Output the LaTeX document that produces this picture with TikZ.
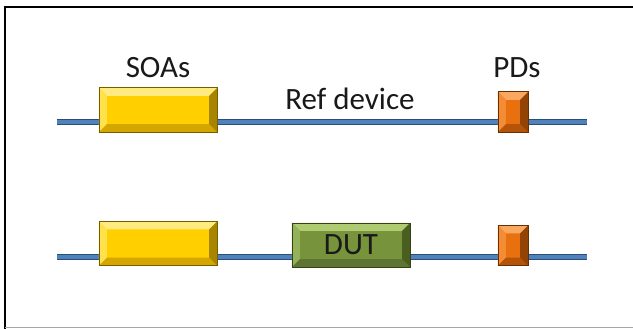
\documentclass[tikz,border=0pt]{standalone}
\usepackage{fontspec}
\setmainfont{Carlito}
\definecolor{soaY}{HTML}{FFCF00}
\definecolor{soaYl}{HTML}{FFEB80}
\definecolor{soaYm}{HTML}{FFE04D}
\definecolor{soaYd}{HTML}{D6A600}
\definecolor{soaYr}{HTML}{A88500}
\definecolor{dutG}{HTML}{77933C}
\definecolor{dutGl}{HTML}{AECB72}
\definecolor{dutGm}{HTML}{94B25A}
\definecolor{dutGd}{HTML}{5D7530}
\definecolor{dutGr}{HTML}{4A5E20}
\definecolor{pdO}{HTML}{E8700F}
\definecolor{pdOl}{HTML}{FAA860}
\definecolor{pdOm}{HTML}{F48C35}
\definecolor{pdOd}{HTML}{B35408}
\definecolor{pdOr}{HTML}{934405}
\definecolor{fibB}{HTML}{4F81BD}
\definecolor{fibD}{HTML}{2C4D75}
% bevel facets drawn from a node's anchors: #1 node, #2 top, #3 left, #4 bottom, #5 right, #6 outline
\newcommand{\mybevel}[6]{%
  \fill[#2] (#1.north west) -- (#1.north east) -- ([shift={(-8pt,-8pt)}]#1.north east) -- ([shift={(8pt,-8pt)}]#1.north west) -- cycle;
  \fill[#3] (#1.north west) -- (#1.south west) -- ([shift={(8pt,8pt)}]#1.south west) -- ([shift={(8pt,-8pt)}]#1.north west) -- cycle;
  \fill[#4] (#1.south west) -- (#1.south east) -- ([shift={(-8pt,8pt)}]#1.south east) -- ([shift={(8pt,8pt)}]#1.south west) -- cycle;
  \fill[#5] (#1.north east) -- (#1.south east) -- ([shift={(-8pt,8pt)}]#1.south east) -- ([shift={(-8pt,-8pt)}]#1.north east) -- cycle;
  \draw[#6, line width=0.6pt] (#1.north west) rectangle (#1.south east);
}
\tikzset{
  boxbase/.style={rectangle, inner sep=0pt, font=\fontsize{31}{33}\selectfont, text=black!90},
  soa/.style={boxbase, fill=soaY, minimum width=118pt, minimum height=44pt},
  dut/.style={boxbase, fill=dutG, minimum width=118pt, minimum height=44pt},
  pd/.style={boxbase, fill=pdO, minimum width=30pt, minimum height=40pt},
  fibre/.style={line width=6pt, draw=fibD},
  fibrein/.style={line width=4pt, draw=fibB},
  lbl/.style={font=\fontsize{31}{33}\selectfont, text=black!90, inner sep=0pt},
}
\begin{document}
\begin{tikzpicture}[x=1pt,y=-1pt]
\useasboundingbox (0,0) rectangle (633,329);
% frame
\draw[line width=2pt, black] (5,329) -- (5,7) -- (633,7);
\draw[line width=1pt, black!35] (5,327.5) -- (633,327.5);
% fibres
\coordinate (l1a) at (57,122);
\coordinate (l1b) at (587,122);
\coordinate (l2a) at (57,257);
\coordinate (l2b) at (587,257);
\draw[fibre] (l1a) -- (l1b);
\draw[fibrein] (l1a) -- (l1b);
\draw[fibre] (l2a) -- (l2b);
\draw[fibrein] (l2a) -- (l2b);
% devices
\node[soa] (soa1) at (158,110) {};
\mybevel{soa1}{soaYl}{soaYm}{soaYd}{soaYr}{soaYr!70!black}
\node[pd] (pd1) at (513,112) {};
\mybevel{pd1}{pdOl}{pdOm}{pdOd}{pdOr}{pdOr!70!black}
\node[soa] (soa2) at (158,243.5) {};
\mybevel{soa2}{soaYl}{soaYm}{soaYd}{soaYr}{soaYr!70!black}
\node[dut] (dut) at (351,245) {};
\mybevel{dut}{dutGl}{dutGm}{dutGd}{dutGr}{dutGr!70!black}
\node[boxbase] (dutlbl) at (dut) {DUT};
\node[pd] (pd2) at (513,245.5) {};
\mybevel{pd2}{pdOl}{pdOm}{pdOd}{pdOr}{pdOr!70!black}
% labels
\node[lbl] (tsoa) at (158,68) {SOAs};
\node[lbl] (tref) at (350,99) {Ref device};
\node[lbl] (tpd) at (517,68) {PDs};
\end{tikzpicture}
\end{document}
